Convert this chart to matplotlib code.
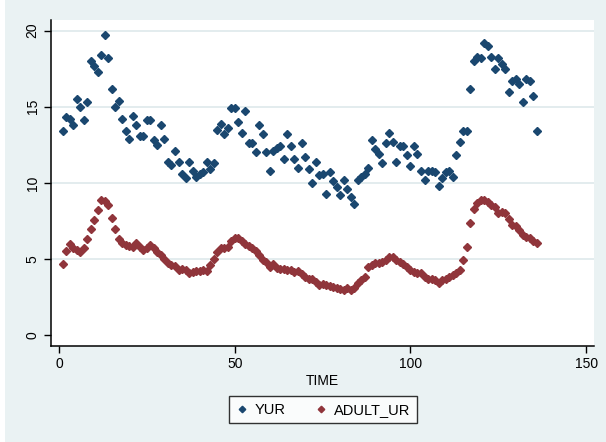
import numpy as np
import matplotlib.pyplot as plt

plt.rcParams['font.family'] = ['Liberation Sans', 'DejaVu Sans']

time = np.arange(1, 137)

yur = [13.4, 14.3, 14.2, 13.8, 15.5, 15.0, 14.1, 15.3, 18.0, 17.7,
       17.3, 18.4, 19.7, 18.2, 16.2, 15.0, 15.4, 14.2, 13.4, 12.9,
       14.4, 13.8, 13.1, 13.1, 14.1, 14.1, 12.8, 12.5, 13.8, 12.9,
       11.4, 11.2, 12.1, 11.4, 10.6, 10.3, 11.4, 10.8, 10.4, 10.6,
       10.7, 11.4, 10.9, 11.3, 13.5, 13.9, 13.2, 13.6, 14.9, 14.9,
       14.0, 13.3, 14.7, 12.6, 12.6, 12.0, 13.8, 13.2, 12.0, 10.8,
       12.1, 12.3, 12.4, 11.6, 13.2, 12.4, 11.6, 11.0, 12.6, 11.7,
       10.9, 10.0, 11.4, 10.5, 10.6, 9.3, 10.7, 10.1, 9.7, 9.2,
       10.2, 9.6, 9.1, 8.6, 10.2, 10.4, 10.6, 11.0, 12.8, 12.2,
       11.9, 11.3, 12.6, 13.3, 12.7, 11.4, 12.4, 12.4, 11.8, 11.1,
       12.4, 11.9, 10.8, 10.2, 10.8, 10.8, 10.7, 9.8, 10.3, 10.7,
       10.8, 10.4, 11.8, 12.7, 13.4, 13.4, 16.2, 18.0, 18.3, 18.2,
       19.2, 19.0, 18.3, 17.5, 18.2, 17.8, 17.5, 16.0, 16.7, 16.8,
       16.5, 15.3, 16.8, 16.7, 15.7, 13.4]

adult_ur = [4.65, 5.5, 6.0, 5.7, 5.6, 5.45, 5.7, 6.3, 7.0, 7.55,
            8.2, 8.9, 8.8, 8.55, 7.7, 7.0, 6.3, 6.05, 5.9, 5.85,
            5.8, 6.05, 5.8, 5.6, 5.7, 5.9, 5.7, 5.45, 5.25, 5.0,
            4.75, 4.6, 4.55, 4.3, 4.35, 4.3, 4.05, 4.15, 4.2, 4.2,
            4.25, 4.2, 4.6, 5.0, 5.45, 5.7, 5.7, 5.8, 6.15, 6.35,
            6.4, 6.2, 6.0, 5.85, 5.7, 5.5, 5.25, 4.95, 4.8, 4.5,
            4.65, 4.4, 4.35, 4.35, 4.3, 4.25, 4.15, 4.2, 4.0, 3.8,
            3.7, 3.65, 3.5, 3.3, 3.35, 3.3, 3.2, 3.15, 3.1, 3.0,
            2.95, 3.1, 2.95, 3.1, 3.4, 3.6, 3.8, 4.5, 4.6, 4.75,
            4.75, 4.8, 4.9, 5.1, 5.1, 4.9, 4.8, 4.7, 4.45, 4.3,
            4.15, 4.1, 4.05, 3.8, 3.7, 3.65, 3.6, 3.45, 3.6, 3.65,
            3.8, 3.95, 4.05, 4.3, 4.95, 5.8, 7.35, 8.25, 8.7, 8.9,
            8.85, 8.75, 8.55, 8.4, 8.0, 8.1, 8.0, 7.65, 7.2, 7.15,
            6.9, 6.6, 6.45, 6.35, 6.2, 6.05]

xticks = [0, 50, 100, 150]
yticks = [0, 5, 10, 15, 20]

bg = '#eaf2f3'
fig = plt.figure(figsize=(6.06, 4.42), dpi=100, facecolor=bg)
# thin white strip on the left edge, as in the reference
fig.patches.append(plt.Rectangle((0, 0), 0.008, 1, transform=fig.transFigure,
                                 facecolor='white', edgecolor='none', zorder=0))
ax = fig.add_axes([0.0837, 0.2172, 0.8973, 0.7382])
ax.set_facecolor('white')

ax.plot(time, yur, linestyle='none', marker='D', ms=4.4, color='#1a476f',
        mec='#1a476f', label='YUR', zorder=3)
ax.plot(time, adult_ur, linestyle='none', marker='D', ms=4.4, color='#90353b',
        mec='#90353b', label='ADULT_UR', zorder=3)

ax.set_xlim(-2.36, 152.36)
ax.set_ylim(-0.72, 20.72)
ax.set_xticks(xticks)
ax.set_yticks(yticks)
ax.tick_params(axis='both', direction='out', length=5, width=1, color='black',
               labelsize=10, pad=3)
for lab in ax.get_yticklabels():
    lab.set_rotation(90)
    lab.set_va('center')

ax.yaxis.grid(True, color='#e1ebed', linewidth=1.3, zorder=0)
ax.get_ygridlines()[0].set_visible(False)
ax.set_axisbelow(True)

for s in ['top', 'right']:
    ax.spines[s].set_visible(False)
for s in ['left', 'bottom']:
    ax.spines[s].set_linewidth(1.1)
    ax.spines[s].set_color('black')

ax.set_xlabel('TIME', fontsize=10, labelpad=2)

leg = fig.legend(loc='center', bbox_to_anchor=(0.533, 0.073), ncol=2,
                 fontsize=10.5, frameon=True, fancybox=False, markerscale=0.75,
                 handlelength=0.8, handletextpad=0.5, columnspacing=2.0,
                 borderpad=0.45)
leg.get_frame().set_edgecolor('black')
leg.get_frame().set_linewidth(1.0)

plt.savefig('out.png', dpi=100, facecolor=bg)
